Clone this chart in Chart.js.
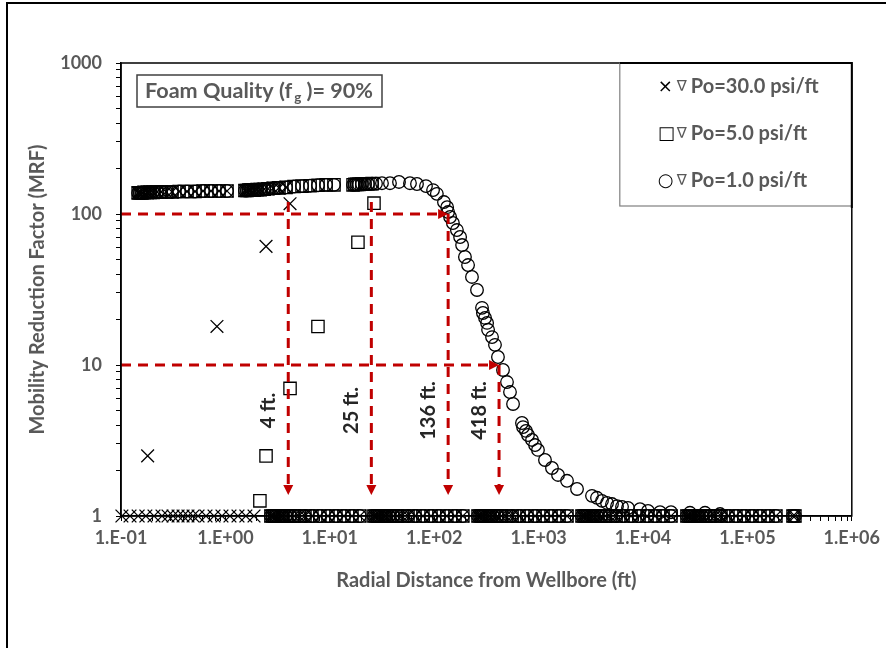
<!DOCTYPE html>
<html>
<head>
<meta charset="utf-8">
<script src="https://cdn.jsdelivr.net/npm/chart.js@4.4.1/dist/chart.umd.min.js"></script>
<style>
  html, body { margin: 0; padding: 0; background: #fff; }
  #wrap { position: relative; width: 886px; height: 648px; }
</style>
</head>
<body>
<div id="wrap"><canvas id="c" width="886" height="648"></canvas></div>
<script>
// ---- Axis ticks ----
const xTickValues = [0.1, 1, 10, 100, 1000, 10000, 100000, 1000000];
const xTickLabels = ['1.E-01', '1.E+00', '1.E+01', '1.E+02', '1.E+03', '1.E+04', '1.E+05', '1.E+06'];
const yTickValues = [1, 10, 100, 1000];
const yTickLabels = ['1', '10', '100', '1000'];

// ---- Near-well plateau (radius in ft, MRF) ----
const rNearA = [0.146, 0.152, 0.159, 0.166, 0.178, 0.190, 0.203, 0.221, 0.242, 0.270, 0.308, 0.360, 0.429, 0.512, 0.611, 0.728, 0.869, 1.036];
const mrfNearA = [138, 138, 138, 139, 139, 139, 139, 140, 140, 140, 140, 141, 141, 141, 142, 142, 142, 142];
const rNearB = [1.54, 1.61, 1.68, 1.76, 1.88, 2.01, 2.15, 2.35, 2.56, 2.86, 3.26, 3.81, 4.54, 5.42, 6.47, 7.71, 9.21, 10.97];
const mrfNearB = [143, 143, 144, 144, 144, 145, 145, 146, 147, 148, 149, 150, 152, 153, 154, 155, 156, 156];
const rNearC = [16.7, 17.4, 18.2, 19.0, 20.3, 21.7, 23.2, 25.4, 27.7];
const mrfNearC = [156, 157, 157, 157, 158, 158, 158, 159, 159];

// ---- Transition points ----
const r30Drop = [0.18, 0.83, 2.45, 4.16];
const mrf30Drop = [2.5, 18, 61, 117];
const r5Drop = [2.14, 2.45, 4.16, 7.7, 18.6, 26.5];
const mrf5Drop = [1.26, 2.5, 7.0, 18, 65, 118];
const r1Decline = [31.6, 37.7, 46.0, 58.6, 68.4, 83.4, 97.5, 106, 124, 133, 136, 142, 151, 165, 177, 185, 197, 211, 230, 257,
  287, 293, 307, 321, 328, 358, 382, 408, 456, 498, 532, 569, 693, 709, 757, 791, 865, 925, 986, 1151, 1343, 1535, 1871, 2333,
  3246, 3624, 4047, 4519, 5047, 5636, 6295, 7178, 9354, 11170, 14550, 18540, 28180, 39260, 54700];
const mrf1Decline = [160, 160, 163, 160, 158, 153, 144, 136, 120, 111, 103, 95.5, 87.2, 78.3, 70.4, 62.3, 51.9, 45.9, 38.3, 31.4,
  23.9, 22.1, 20.5, 19.0, 17.1, 15.3, 13.6, 11.3, 9.27, 7.71, 6.62, 5.52, 4.13, 3.88, 3.66, 3.44, 3.19, 2.95, 2.74, 2.35, 2.08, 1.87, 1.71, 1.51,
  1.36, 1.32, 1.26, 1.22, 1.20, 1.16, 1.15, 1.13, 1.11, 1.08, 1.06, 1.06, 1.05, 1.05, 1.03];

// ---- Points sitting at MRF = 1 ----
const rLeft30 = [0.102, 0.122, 0.146, 0.173, 0.207, 0.247, 0.282, 0.315, 0.352, 0.393, 0.438, 0.490, 0.547, 0.652, 0.778, 0.927, 1.106, 1.32, 1.57, 1.88];
const rFar = [
  2.73, 2.85, 2.98, 3.11, 3.33, 3.56, 3.80, 4.15, 4.53, 5.06, 5.78, 6.74, 8.04, 9.60, 11.45, 13.65, 16.3, 19.4,
  26.5, 27.7, 28.9, 30.2, 32.3, 34.5, 36.9, 40.3, 44.0, 49.1, 56.1, 65.5, 78.0, 93.2, 111, 132, 158, 188,
  263, 275, 287, 300, 321, 343, 366, 400, 437, 488, 557, 650, 774, 925, 1103, 1315, 1570, 1870,
  2606, 2723, 2846, 2973, 3177, 3396, 3628, 3964, 4326, 4831, 5517, 6437, 7672, 9163, 10932, 13030, 15560, 18530,
  26370, 27560, 28800, 30090, 32150, 34360, 36710, 40110, 43770, 48890, 55830, 65130, 77630, 92720, 110600, 131900, 157400, 187500,
  273500, 285000];
const mrfFar = 1;

// ---- Series names ----
const seriesNames = ['Po=30.0 psi/ft', 'Po=5.0 psi/ft', 'Po=1.0 psi/ft'];
const seriesSymbols = ['\u00D7', '\u25A1', '\u25CB'];

// ---- Guide arrows and their labels ----
const guideLevels = [100, 10];
const guideEnds = [136, 418];
const cutoffR = [4, 25, 136, 418];
const cutoffTop = [120, 120, 100, 10];
const cutoffLabels = ['4 ft.', '25 ft.', '136 ft.', '418 ft.'];
const arrowTipMrf = 1.38;
const cutoffLabelMrf = 5;

const foamQuality = 90;

// ---- helpers ----
const pts = (rs, ms) => rs.map((r, i) => ({ x: r, y: ms[i] }));
const flat = (rs, m) => rs.map(r => ({ x: r, y: m }));
function withMinor(majors) {
  const out = [];
  majors.forEach((v, i) => {
    out.push({ value: v, major: true });
    if (i < majors.length - 1) for (let k = 2; k <= 9; k++) out.push({ value: v * k, major: false });
  });
  return out;
}
function majorLabel(values, labels) {
  return (value) => {
    const i = values.findIndex(v => Math.abs(Math.log10(v) - Math.log10(value)) < 1e-9);
    return i >= 0 ? labels[i] : '';
  };
}

const GRAY = '#595959';
const FONT = 'Lato, "Liberation Sans", sans-serif';

const series30 = [].concat(
  pts(rNearA, mrfNearA),
  pts(rNearB.slice(0, 12), mrfNearB.slice(0, 12)),
  pts(r30Drop, mrf30Drop),
  flat(rLeft30, mrfFar),
  flat(rFar, mrfFar));
const series5 = [].concat(
  pts(rNearA, mrfNearA),
  pts(rNearB, mrfNearB),
  pts(rNearC.slice(0, 8), mrfNearC.slice(0, 8)),
  pts(r5Drop, mrf5Drop),
  flat(rFar, mrfFar));
const series1 = [].concat(
  pts(rNearA, mrfNearA),
  pts(rNearB, mrfNearB),
  pts(rNearC, mrfNearC),
  pts(r1Decline, mrf1Decline),
  flat(rFar, mrfFar));

// Frame lines, plot-area border, text boxes and the red guide arrows
const decorPlugin = {
  id: 'decor',
  beforeDraw(chart) {
    const { ctx } = chart;
    ctx.save();
    ctx.fillStyle = '#fff';
    ctx.fillRect(0, 0, chart.width, chart.height);
    ctx.strokeStyle = '#000';
    ctx.lineWidth = 2;
    ctx.beginPath();
    ctx.moveTo(7, chart.height);
    ctx.lineTo(7, 3);
    ctx.lineTo(chart.width, 3);
    ctx.stroke();
    ctx.restore();
  },
  afterDatasetsDraw(chart) {
    const { ctx, chartArea: a, scales: { x, y } } = chart;
    ctx.save();
    ctx.strokeStyle = '#C00000';
    ctx.fillStyle = '#C00000';
    ctx.lineWidth = 3;
    const head = 10, half = 5;
    guideLevels.forEach((m, i) => {
      const py = y.getPixelForValue(m);
      const x0 = a.left;
      const x1 = x.getPixelForValue(guideEnds[i]);
      ctx.setLineDash([10, 7]);
      ctx.beginPath(); ctx.moveTo(x0, py); ctx.lineTo(x1 - head, py); ctx.stroke();
      ctx.setLineDash([]);
      ctx.beginPath(); ctx.moveTo(x1, py); ctx.lineTo(x1 - head, py - half); ctx.lineTo(x1 - head, py + half); ctx.closePath(); ctx.fill();
    });
    const tipY = y.getPixelForValue(arrowTipMrf);
    cutoffR.forEach((r, i) => {
      const px = x.getPixelForValue(r);
      const y0 = y.getPixelForValue(cutoffTop[i]);
      ctx.setLineDash([10, 7]);
      ctx.beginPath(); ctx.moveTo(px, y0); ctx.lineTo(px, tipY - head); ctx.stroke();
      ctx.setLineDash([]);
      ctx.beginPath(); ctx.moveTo(px, tipY); ctx.lineTo(px - half, tipY - head); ctx.lineTo(px + half, tipY - head); ctx.closePath(); ctx.fill();
      ctx.save();
      ctx.translate(px - 20, y.getPixelForValue(cutoffLabelMrf));
      ctx.rotate(-Math.PI / 2);
      ctx.fillStyle = '#262626';
      ctx.font = 'bold 20px ' + FONT;
      ctx.textAlign = 'center';
      ctx.textBaseline = 'middle';
      ctx.fillText(cutoffLabels[i], 0, 0);
      ctx.restore();
    });
    ctx.restore();
  },
  afterDraw(chart) {
    const { ctx, chartArea: a } = chart;
    ctx.save();
    ctx.strokeStyle = '#000';
    ctx.lineWidth = 1.5;
    ctx.strokeRect(a.left, a.top, a.right - a.left, a.bottom - a.top);

    // foam-quality box, sized to its text
    const t1 = 'Foam Quality (f', t2 = 'g', t3 = ' )= ' + foamQuality + '%';
    ctx.font = 'bold 20px ' + FONT;
    const fs = 20 * 147 / ctx.measureText(t1).width;
    const mainFont = 'bold ' + fs.toFixed(1) + 'px ' + FONT;
    const subFont = 'bold ' + (fs * 0.62).toFixed(1) + 'px ' + FONT;
    ctx.font = mainFont;
    const w1 = ctx.measureText(t1).width, w3 = ctx.measureText(t3).width;
    ctx.font = subFont;
    const w2 = ctx.measureText(t2).width;
    const bx = a.left + 16, by = a.top + 12, bh = 32;
    const bw = 8 + w1 + 2 + w2 + w3 + 9;
    ctx.fillStyle = '#fff';
    ctx.fillRect(bx, by, bw, bh);
    ctx.strokeStyle = '#404040';
    ctx.lineWidth = 1.5;
    ctx.strokeRect(bx, by, bw, bh);
    ctx.fillStyle = GRAY;
    ctx.textBaseline = 'alphabetic';
    ctx.textAlign = 'left';
    let tx = bx + 8;
    const base = by + 23;
    ctx.font = mainFont; ctx.fillText(t1, tx, base); tx += w1 + 2;
    ctx.font = subFont; ctx.fillText(t2, tx, base + 4); tx += w2;
    ctx.font = mainFont; ctx.fillText(t3, tx, base);

    // legend box
    const lx = a.right - 232, ly = a.top, lw = 232, lh = 143;
    ctx.fillStyle = '#fff';
    ctx.fillRect(lx, ly, lw, lh);
    ctx.strokeStyle = '#7f7f7f';
    ctx.lineWidth = 1.2;
    ctx.strokeRect(lx, ly, lw, lh);
    ctx.strokeStyle = '#000';
    ctx.lineWidth = 2;
    ctx.beginPath(); ctx.moveTo(lx, ly); ctx.lineTo(a.right, ly); ctx.lineTo(a.right, ly + lh + 2); ctx.stroke();
    seriesNames.forEach((name, i) => {
      const cy = ly + 24 + i * 47;
      ctx.textBaseline = 'middle';
      ctx.textAlign = 'left';
      ctx.fillStyle = '#000';
      ctx.font = '18px "DejaVu Sans"';
      ctx.fillText(seriesSymbols[i], lx + 38, cy);
      ctx.fillStyle = GRAY;
      ctx.font = '15px "DejaVu Sans"';
      ctx.fillText('\u2207', lx + 57, cy);
      ctx.font = 'bold 20px ' + FONT;
      ctx.fillText(name, lx + 71, cy);
    });
    ctx.restore();
  }
};

const markerBase = { showLine: false, borderColor: '#000', backgroundColor: 'rgba(0,0,0,0)', borderWidth: 1.3, clip: false };

new Chart(document.getElementById('c'), {
  type: 'scatter',
  data: {
    datasets: [
      Object.assign({ label: seriesNames[0], data: series30, pointStyle: 'crossRot', pointRadius: 9 }, markerBase),
      Object.assign({ label: seriesNames[1], data: series5, pointStyle: 'rect', pointRadius: 8.7 }, markerBase),
      Object.assign({ label: seriesNames[2], data: series1, pointStyle: 'circle', pointRadius: 6.3 }, markerBase)
    ]
  },
  options: {
    responsive: false,
    devicePixelRatio: 1,
    animation: false,
    events: [],
    layout: { padding: { left: 26, right: 34, top: 63, bottom: 52 } },
    plugins: { legend: { display: false }, tooltip: { enabled: false } },
    scales: {
      x: {
        type: 'logarithmic',
        position: 'bottom',
        min: xTickValues[0],
        max: xTickValues[xTickValues.length - 1],
        afterBuildTicks: s => { s.ticks = withMinor(xTickValues); },
        afterFit: s => { s.height = 80; },
        ticks: {
          autoSkip: false, maxRotation: 0, minRotation: 0, padding: 6,
          color: GRAY, font: { family: FONT, size: 18, weight: 'bold' },
          callback: majorLabel(xTickValues, xTickLabels)
        },
        grid: { drawOnChartArea: false, drawTicks: true, tickLength: 5, color: '#000', lineWidth: 1 },
        border: { display: true, color: '#000', width: 1.5 },
        title: {
          display: true, text: 'Radial Distance from Wellbore (ft)', color: GRAY,
          font: { family: FONT, size: 20, weight: 'bold' }, padding: { top: 0, bottom: 3 }
        }
      },
      y: {
        type: 'logarithmic',
        position: 'left',
        min: yTickValues[0],
        max: yTickValues[yTickValues.length - 1],
        afterBuildTicks: s => { s.ticks = withMinor(yTickValues); },
        afterFit: s => { s.width = 95; },
        ticks: {
          autoSkip: false, padding: 14,
          color: GRAY, font: { family: FONT, size: 18, weight: 'bold' },
          callback: majorLabel(yTickValues, yTickLabels)
        },
        grid: { drawOnChartArea: false, drawTicks: true, tickLength: 5, color: '#000', lineWidth: 1 },
        border: { display: true, color: '#000', width: 1.5 },
        title: {
          display: true, text: 'Mobility Reduction Factor (MRF)', color: GRAY,
          font: { family: FONT, size: 20, weight: 'bold' }, padding: { top: 0, bottom: 0 }
        }
      }
    }
  },
  plugins: [decorPlugin]
});
</script>
</body>
</html>
